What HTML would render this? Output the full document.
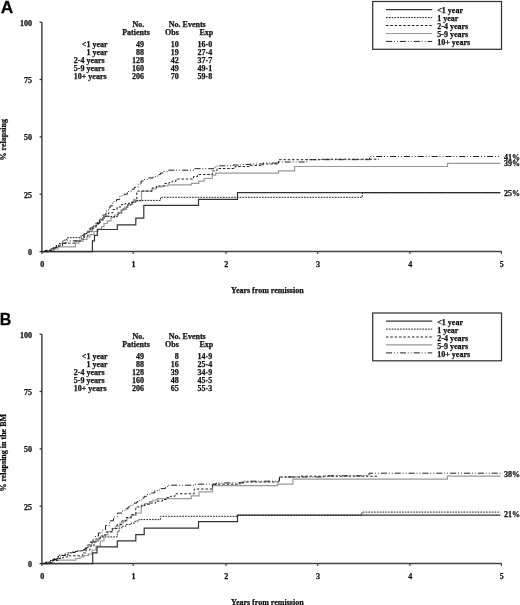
<!DOCTYPE html>
<html><head><meta charset="utf-8"><style>
html,body{margin:0;padding:0;background:#fff;width:520px;height:605px;overflow:hidden}
svg{display:block;filter:grayscale(1)}
text{font-family:"Liberation Serif",serif;font-weight:bold;font-size:8px;fill:#111;stroke:#111;stroke-width:0.25px}
.pl{font-family:"Liberation Sans",sans-serif;font-weight:bold;font-size:16.7px;fill:#000}
</style></head><body>
<svg width="520" height="605" viewBox="0 0 520 605">
<text class="pl" x="0.7" y="12.7" transform="translate(0.7 0) scale(1.04 1) translate(-0.7 0)">A</text>
<text class="pl" x="-0.2" y="324.8" transform="translate(-0.2 0) scale(0.96 1) translate(0.2 0)">B</text>
<path d="M41.9 22.2 V251.6 H501.7" stroke="#444" stroke-width="1.5" fill="none"/>
<path d="M39.6 22.2 H41.9" stroke="#2a2a2a" stroke-width="1.2"/>
<text x="32" y="25.5" text-anchor="end">100</text>
<path d="M39.6 79.5 H41.9" stroke="#2a2a2a" stroke-width="1.2"/>
<text x="32" y="82.8" text-anchor="end">75</text>
<path d="M39.6 136.9 H41.9" stroke="#2a2a2a" stroke-width="1.2"/>
<text x="32" y="140.2" text-anchor="end">50</text>
<path d="M39.6 194.2 H41.9" stroke="#2a2a2a" stroke-width="1.2"/>
<text x="32" y="197.5" text-anchor="end">25</text>
<path d="M39.6 251.6 H41.9" stroke="#2a2a2a" stroke-width="1.2"/>
<text x="32" y="254.9" text-anchor="end">0</text>
<path d="M41.9 251.6 V253.9" stroke="#3a3a3a" stroke-width="1.1"/>
<text x="42.2" y="266.8" text-anchor="middle">0</text>
<path d="M133.2 251.6 V253.9" stroke="#3a3a3a" stroke-width="1.1"/>
<text x="133.5" y="266.8" text-anchor="middle">1</text>
<path d="M226.0 251.6 V253.9" stroke="#3a3a3a" stroke-width="1.1"/>
<text x="226.3" y="266.8" text-anchor="middle">2</text>
<path d="M317.8 251.6 V253.9" stroke="#3a3a3a" stroke-width="1.1"/>
<text x="318.1" y="266.8" text-anchor="middle">3</text>
<path d="M409.9 251.6 V253.9" stroke="#3a3a3a" stroke-width="1.1"/>
<text x="410.2" y="266.8" text-anchor="middle">4</text>
<path d="M501.4 251.6 V253.9" stroke="#3a3a3a" stroke-width="1.1"/>
<text x="501.7" y="266.8" text-anchor="middle">5</text>
<text x="267.3" y="293.3" text-anchor="middle">Years from remission</text>
<text transform="translate(6.1 139.8) rotate(-90)" text-anchor="middle">% relapsing</text>
<path d="M41.9 251.6 H50 V250.5 H54 V249 H57.8 V246.9 H75.4 V243.2 H79 V241.5 H83 V239.5 H87 V237 H90 V234.7 H94 V231.5 H98 V229 H101.6 V226.6 H104 V223.5 H107.3 V220.9 H111 V217.5 H114.5 V215 H117.7 V212.8 H121 V210 H124.7 V207 H128 V204.5 H132 V202.5 H135 V200.8 H141.5 V191.1 H152 V189 H156 V187 H162 V186 H168 V184.8 H191.4 V183.3 H198.8 V181.2 H204.2 V178.5 H212.3 V175.2 H215.7 V173.2 H278.5 V170.8 H294.6 V166.5 H447.5 V163.3 H500.4" stroke="#999" stroke-width="1.2" fill="none"/>
<path d="M41.9 251.6 H92.4 V240.8 H94.5 V235.4 H97.3 V229.5 H117.3 V224.9 H135.8 V218.2 H143.8 V205.4 H198.5 V199.4 H237.5 V192.7 H500.4" stroke="#333" stroke-width="1.2" fill="none"/>
<path d="M41.9 251.6 H46 V250.3 H50 V249 H53 V247.5 H56 V245.5 H59 V243.5 H62.5 V241 H65 V239.5 H67.1 V237.7 H81 V235.4 H84 V233.5 H87.4 V231.7 H90.2 V229.4 H93 V226 H96 V222.5 H100 V219 H104 V216.6 H118 V213 H122 V209 H127 V205 H132 V202 H136 V200.4 H160.6 V197.3 H362.3 V192.7 H500.4" stroke="#222" stroke-width="1" stroke-dasharray="1.7 1.1" fill="none"/>
<path d="M41.9 251.6 H48 V250.5 H52 V249 H55 V247.5 H58 V246 H62.5 V243.2 H74.5 V241 H80 V239 H84 V236 H88 V232 H92 V228 H96 V224 H100 V220 H104 V216 H108.5 V212.8 H113 V209.5 H117 V207 H121.2 V204.7 H125 V203.5 H129.3 V202.4 H133 V200 H136.8 V191.1 H152 V188 H156.5 V186 H164.6 V183.6 H169 V182.5 H172 V181.3 H176 V179 H193.5 V176.5 H197.5 V174.5 H212.3 V170.9 H217 V168.5 H235 V166.5 H250 V165.4 H263 V164 H278.5 V159.7 H320 V159.2 H379" stroke="#222" stroke-width="1" stroke-dasharray="2.5 1.83" fill="none"/>
<path d="M41.9 251.6 H45 V250.5 H49.5 V249.5 H53 V248 H56 V246.5 H59 V245 H62.5 V243.2 H66 V241.5 H67.1 V240.9 H81 V238 H84 V234 H87 V231 H90 V228 H93 V226 H96.5 V223.5 H99.5 V219.5 H102.7 V215 H106 V211 H108.5 V208 H110 V205.8 H112.7 V201.5 H116.5 V199.6 H119.6 V196.5 H122 V195.3 H124.2 V194.2 H127.3 V191.5 H131.2 V189.2 H134.2 V187.3 H138.1 V184.2 H141 V181 H144 V179.5 H147.3 V177.9 H153.1 V176.7 H157.7 V174.4 H160.5 V173 H163.4 V171.5 H167.5 V170.2 H194.1 V168.7 H213.6 V167.2 H217 V165.8 H233 V165 H243 V164.5 H250 V164 H263 V163 H278.5 V162 H306.7 V159.7 H369.6 V156.5 H500.4" stroke="#222" stroke-width="1" stroke-dasharray="6.1 1.85 0.9 2.1 0.9 2.0" fill="none"/>
<text x="138.3" y="27" text-anchor="middle">No.</text>
<text x="136" y="35" text-anchor="middle">Patients</text>
<text x="187.3" y="27" text-anchor="middle">No. Events</text>
<text x="171.9" y="35.3" text-anchor="middle">Obs</text>
<text x="206.3" y="35.3" text-anchor="middle">Exp</text>
<text x="107.5" y="46.8" text-anchor="end">&lt;1 year</text>
<text x="144" y="46.8" text-anchor="end">49</text>
<text x="178.8" y="46.8" text-anchor="end">10</text>
<text x="212.2" y="46.8" text-anchor="end">16·0</text>
<text x="107.5" y="54.8" text-anchor="end">1 year</text>
<text x="144" y="54.8" text-anchor="end">88</text>
<text x="178.8" y="54.8" text-anchor="end">19</text>
<text x="212.2" y="54.8" text-anchor="end">27·4</text>
<text x="73.8" y="62.9" text-anchor="start">2-4 years</text>
<text x="144" y="62.9" text-anchor="end">128</text>
<text x="178.8" y="62.9" text-anchor="end">42</text>
<text x="212.2" y="62.9" text-anchor="end">37·7</text>
<text x="73.8" y="71.0" text-anchor="start">5-9 years</text>
<text x="144" y="71.0" text-anchor="end">160</text>
<text x="178.8" y="71.0" text-anchor="end">49</text>
<text x="212.2" y="71.0" text-anchor="end">49·1</text>
<text x="73.8" y="79.0" text-anchor="start">10+ years</text>
<text x="144" y="79.0" text-anchor="end">206</text>
<text x="178.8" y="79.0" text-anchor="end">70</text>
<text x="212.2" y="79.0" text-anchor="end">59·8</text>
<rect x="372.7" y="1.5" width="128.8" height="47.8" stroke="#333" stroke-width="1.25" fill="none"/>
<path d="M386 9.6 H432.2" stroke="#333" stroke-width="1.2" fill="none"/>
<text x="437.3" y="13.2">&lt;1 year</text>
<path d="M386 17.6 H432.2" stroke="#222" stroke-width="1" stroke-dasharray="1.7 1.1" fill="none"/>
<text x="437.3" y="21.2">1 year</text>
<path d="M386 25.5 H432.2" stroke="#222" stroke-width="1" stroke-dasharray="2.5 1.83" fill="none"/>
<text x="437.3" y="29.3">2-4 years</text>
<path d="M386 33.5 H432.2" stroke="#999" stroke-width="1.2" fill="none"/>
<text x="437.3" y="37.4">5-9 years</text>
<path d="M386 41.4 H432.2" stroke="#222" stroke-width="1" stroke-dasharray="6.1 1.85 0.9 2.1 0.9 2.0" fill="none"/>
<text x="437.3" y="45.4">10+ years</text>
<text x="504" y="160.0">41%</text>
<text x="504" y="166.2">39%</text>
<text x="504" y="196.2">25%</text>
<path d="M41.9 334.2 V563.6 H501.7" stroke="#444" stroke-width="1.5" fill="none"/>
<path d="M39.6 334.2 H41.9" stroke="#2a2a2a" stroke-width="1.2"/>
<text x="32" y="337.5" text-anchor="end">100</text>
<path d="M39.6 391.5 H41.9" stroke="#2a2a2a" stroke-width="1.2"/>
<text x="32" y="394.8" text-anchor="end">75</text>
<path d="M39.6 448.9 H41.9" stroke="#2a2a2a" stroke-width="1.2"/>
<text x="32" y="452.2" text-anchor="end">50</text>
<path d="M39.6 506.2 H41.9" stroke="#2a2a2a" stroke-width="1.2"/>
<text x="32" y="509.5" text-anchor="end">25</text>
<path d="M39.6 563.6 H41.9" stroke="#2a2a2a" stroke-width="1.2"/>
<text x="32" y="566.9" text-anchor="end">0</text>
<path d="M41.9 563.6 V565.9" stroke="#3a3a3a" stroke-width="1.1"/>
<text x="42.2" y="578.8" text-anchor="middle">0</text>
<path d="M133.2 563.6 V565.9" stroke="#3a3a3a" stroke-width="1.1"/>
<text x="133.5" y="578.8" text-anchor="middle">1</text>
<path d="M226.0 563.6 V565.9" stroke="#3a3a3a" stroke-width="1.1"/>
<text x="226.3" y="578.8" text-anchor="middle">2</text>
<path d="M317.8 563.6 V565.9" stroke="#3a3a3a" stroke-width="1.1"/>
<text x="318.1" y="578.8" text-anchor="middle">3</text>
<path d="M409.9 563.6 V565.9" stroke="#3a3a3a" stroke-width="1.1"/>
<text x="410.2" y="578.8" text-anchor="middle">4</text>
<path d="M501.4 563.6 V565.9" stroke="#3a3a3a" stroke-width="1.1"/>
<text x="501.7" y="578.8" text-anchor="middle">5</text>
<text x="267.3" y="605.3" text-anchor="middle">Years from remission</text>
<text transform="translate(6.1 452.8) rotate(-90)" text-anchor="middle">% relapsing in the BM</text>
<path d="M41.9 563.6 H48 V562.5 H52.7 V560.1 H75.8 V558.5 H80 V557 H84 V555.5 H88.4 V554 H92 V550 H96 V546 H100.4 V541 H104 V535 H108 V531.5 H112 V528.5 H115.8 V526.2 H120 V523 H123.5 V520.8 H127 V518 H131.2 V515.4 H136 V513 H141.2 V505.4 H145 V503.5 H149.6 V501.5 H153 V500 H157.3 V498.7 H191.3 V495.8 H199 V491.9 H212.5 V485.6 H277.5 V484.1 H292.9 V479.2 H447.4 V476.2 H500.4" stroke="#999" stroke-width="1.2" fill="none"/>
<path d="M41.9 563.6 H92.7 V552.8 H97 V546.9 H117.3 V540.8 H135.8 V534.6 H144.2 V528.2 H198.5 V521.7 H237.5 V515.2 H500.4" stroke="#333" stroke-width="1.2" fill="none"/>
<path d="M41.9 563.6 H46 V562 H50 V560.5 H54 V558.5 H58.5 V555.2 H67.7 V552.9 H72 V552 H76 V551 H81.5 V550.6 H85 V548 H88 V545 H92 V542 H96 V539 H100.4 V536.9 H117.3 V532 H119 V528 H121.9 V526.2 H126 V524.5 H131.2 V523.1 H135 V521 H138.8 V519.6 H160.4 V516.3 H237.5 V515.2 H362 V512.1 H500.4" stroke="#222" stroke-width="1" stroke-dasharray="1.7 1.1" fill="none"/>
<path d="M41.9 563.6 H48 V562.5 H52.7 V560.4 H58 V558.5 H63 V557 H67.7 V555.8 H82.7 V553 H86 V550 H90 V546 H94 V542 H98 V538 H102 V535 H106 V532 H112.7 V528.5 H117 V524.5 H121.9 V520.8 H126 V517.5 H131.2 V514.6 H135.8 V506.9 H141.9 V505.4 H145 V504.3 H149.6 V503.1 H155.8 V501.1 H162.5 V499.5 H167 V497.5 H170.2 V496.3 H175 V493.8 H194.2 V489 H212.5 V484.2 H240 V482 H279.4 V477 H300 V476.2 H377.7" stroke="#222" stroke-width="1" stroke-dasharray="2.5 1.83" fill="none"/>
<path d="M41.9 563.6 H45 V562.5 H49 V561 H52.7 V559.5 H57 V557 H61 V555.5 H65 V554 H70 V552.5 H75 V551.5 H79 V550.5 H82 V549.5 H85 V548.5 H87 V545 H90 V542 H93 V539.2 H95.5 V536 H98.5 V533 H102 V530 H105.5 V525.5 H109.5 V520.8 H113.5 V517 H117.3 V513.1 H122 V511 H125 V508.8 H128 V507 H130.8 V504.9 H134.6 V503 H137 V501.5 H139.4 V500.1 H142 V498 H144.2 V496.3 H147 V494.5 H150 V492.9 H154.8 V490.5 H159.6 V488.6 H165.4 V487.1 H167.3 V485.2 H195.2 V484.2 H216.3 V482.9 H244.2 V481.2 H279.4 V477 H324.6 V475.8 H369 V473.2 H500.4" stroke="#222" stroke-width="1" stroke-dasharray="6.1 1.85 0.9 2.1 0.9 2.0" fill="none"/>
<text x="138.3" y="339" text-anchor="middle">No.</text>
<text x="136" y="347" text-anchor="middle">Patients</text>
<text x="187.3" y="339" text-anchor="middle">No. Events</text>
<text x="171.9" y="347.3" text-anchor="middle">Obs</text>
<text x="206.3" y="347.3" text-anchor="middle">Exp</text>
<text x="107.5" y="358.8" text-anchor="end">&lt;1 year</text>
<text x="144" y="358.8" text-anchor="end">49</text>
<text x="178.8" y="358.8" text-anchor="end">8</text>
<text x="212.2" y="358.8" text-anchor="end">14·9</text>
<text x="107.5" y="366.9" text-anchor="end">1 year</text>
<text x="144" y="366.9" text-anchor="end">88</text>
<text x="178.8" y="366.9" text-anchor="end">16</text>
<text x="212.2" y="366.9" text-anchor="end">25·4</text>
<text x="73.8" y="374.9" text-anchor="start">2-4 years</text>
<text x="144" y="374.9" text-anchor="end">128</text>
<text x="178.8" y="374.9" text-anchor="end">39</text>
<text x="212.2" y="374.9" text-anchor="end">34·9</text>
<text x="73.8" y="382.9" text-anchor="start">5-9 years</text>
<text x="144" y="382.9" text-anchor="end">160</text>
<text x="178.8" y="382.9" text-anchor="end">48</text>
<text x="212.2" y="382.9" text-anchor="end">45·5</text>
<text x="73.8" y="391.0" text-anchor="start">10+ years</text>
<text x="144" y="391.0" text-anchor="end">206</text>
<text x="178.8" y="391.0" text-anchor="end">65</text>
<text x="212.2" y="391.0" text-anchor="end">55·3</text>
<rect x="372.7" y="313.0" width="128.8" height="47.8" stroke="#333" stroke-width="1.25" fill="none"/>
<path d="M386 321.1 H432.2" stroke="#333" stroke-width="1.2" fill="none"/>
<text x="437.3" y="324.7">&lt;1 year</text>
<path d="M386 329.1 H432.2" stroke="#222" stroke-width="1" stroke-dasharray="1.7 1.1" fill="none"/>
<text x="437.3" y="332.8">1 year</text>
<path d="M386 337.0 H432.2" stroke="#222" stroke-width="1" stroke-dasharray="2.5 1.83" fill="none"/>
<text x="437.3" y="340.8">2-4 years</text>
<path d="M386 344.9 H432.2" stroke="#999" stroke-width="1.2" fill="none"/>
<text x="437.3" y="348.9">5-9 years</text>
<path d="M386 352.9 H432.2" stroke="#222" stroke-width="1" stroke-dasharray="6.1 1.85 0.9 2.1 0.9 2.0" fill="none"/>
<text x="437.3" y="356.9">10+ years</text>
<text x="504" y="477">38%</text>
<text x="504" y="517">21%</text>
</svg>
</body></html>
